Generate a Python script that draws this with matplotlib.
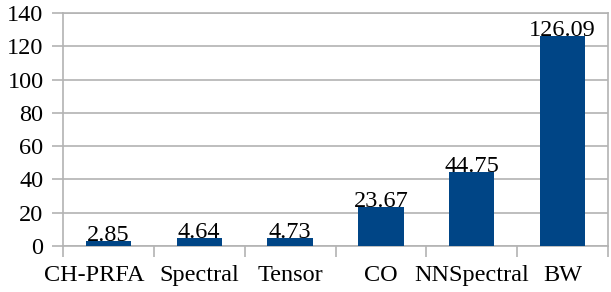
import matplotlib
matplotlib.use("Agg")
import matplotlib.pyplot as plt
import matplotlib.transforms as mtransforms
import numpy as np

categories = ["CH-PRFA", "Spectral", "Tensor", "CO", "NNSpectral", "BW"]
values = [2.85, 4.64, 4.73, 23.67, 44.75, 126.09]
value_labels = ["2.85", "4.64", "4.73", "23.67", "44.75", "126.09"]
yticks = [0, 20, 40, 60, 80, 100, 120, 140]

FS = 17.5
plt.rcParams['font.family'] = ['Liberation Serif', 'DejaVu Serif']
fig = plt.figure(figsize=(6.11, 2.92), dpi=100)
ax = fig.add_axes([63/611, 1-246/292, (608-63)/611, (246-13)/292])

x = np.arange(len(categories))
ax.bar(x, values, width=0.5, color="#004586", zorder=3)
for xi, v, lab in zip(x, values, value_labels):
    ax.text(xi, v, lab, ha="center", va="baseline", fontsize=FS, color="black", zorder=4)

ax.set_xlim(-0.5, len(categories) - 0.5)
ax.set_ylim(0, 140)
ax.set_yticks(yticks)
ax.set_yticklabels([str(t) for t in yticks], fontsize=FS)
ax.set_xticks(x)
ax.set_xticklabels(categories, fontsize=FS)
ax.set_xticks(np.arange(len(categories) + 1) - 0.5, minor=True)
ax.tick_params(axis="x", which="major", length=0, pad=14)
ax.tick_params(axis="x", which="minor", length=8, width=1.2, color="#b3b3b3", direction="out")
ax.tick_params(axis="y", length=8, width=1.2, color="#b3b3b3", direction="out", pad=6)
ax.grid(axis="y", color="#b3b3b3", linewidth=1.2, zorder=0)
for s in ax.spines.values():
    s.set_color("#b3b3b3")
    s.set_linewidth(1.2)

# first label is wider than its slot and is shifted left in the reference
lbl = ax.get_xticklabels()[0]
lbl.set_transform(lbl.get_transform() + mtransforms.ScaledTranslation(-14/100, 0, fig.dpi_scale_trans))

fig.savefig("out.png", dpi=100)
